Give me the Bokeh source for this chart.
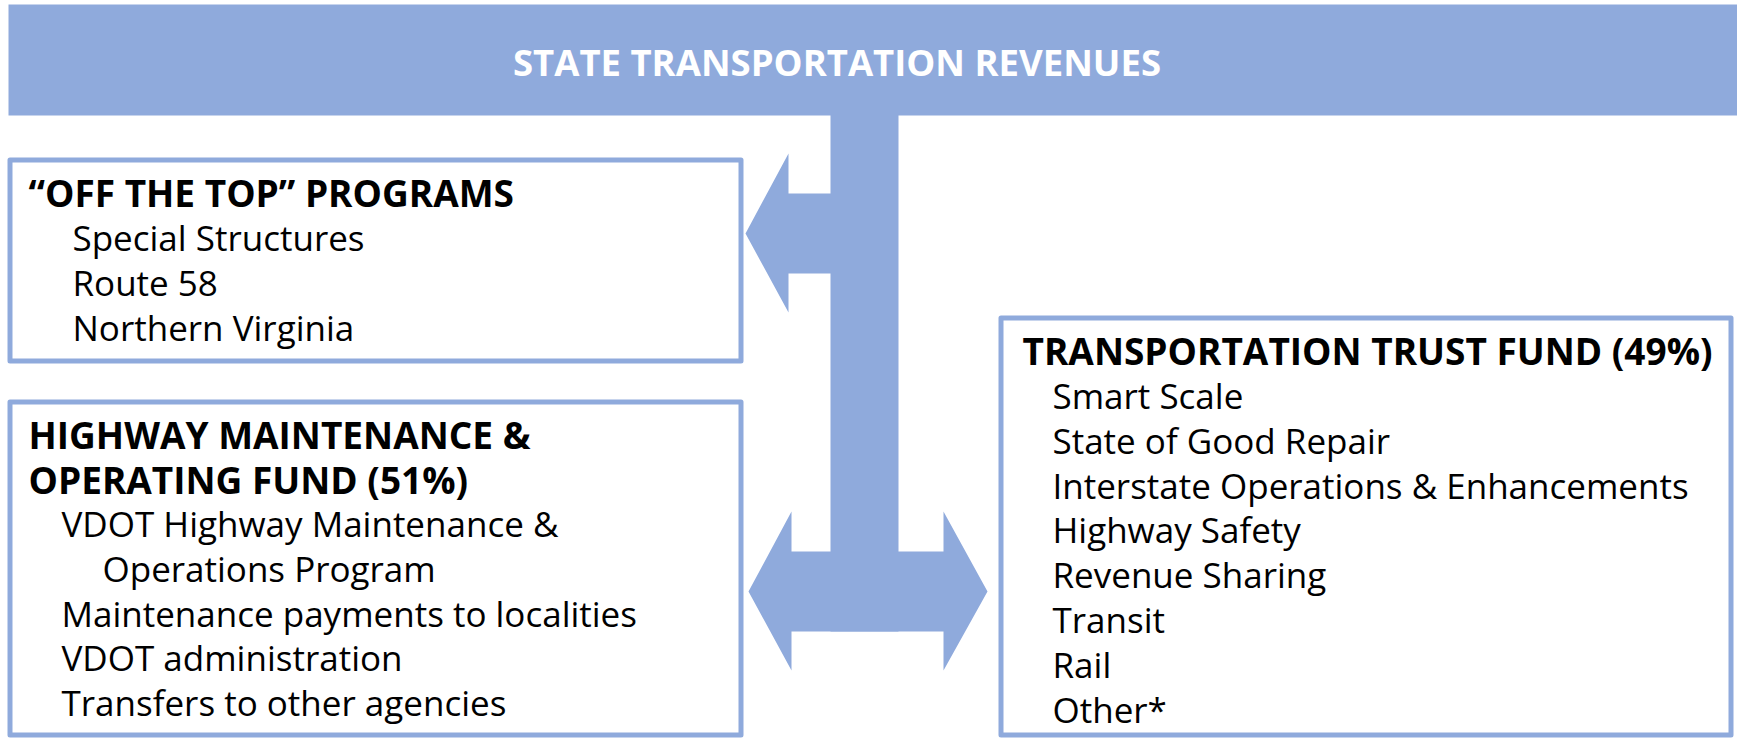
from bokeh.plotting import figure
from bokeh.models import Range1d
from bokeh.core.properties import value
from bokeh.embed import file_html
from bokeh.resources import INLINE

# ---- content ----
header_text = "STATE TRANSPORTATION REVENUES"
off_top_title = ["“OFF THE TOP” PROGRAMS"]
off_top_items = ["Special Structures", "Route 58", "Northern Virginia"]
hmof_title = ["HIGHWAY MAINTENANCE &", "OPERATING FUND (51%)"]
hmof_items = ["VDOT Highway Maintenance &", "Operations Program",
              "Maintenance payments to localities", "VDOT administration",
              "Transfers to other agencies"]
hmof_indent = [0, 1, 0, 0, 0]
ttf_title = ["TRANSPORTATION TRUST FUND (49%)"]
ttf_items = ["Smart Scale", "State of Good Repair",
             "Interstate Operations & Enhancements", "Highway Safety",
             "Revenue Sharing", "Transit", "Rail", "Other*"]

# ---- layout / style ----
W, H = 1737, 738
BLUE = "#8FAADC"
FONT = value("Open Sans")
BODY_SIZE = "35px"
TITLE_SIZE = "37px"
HEAD_SIZE = "36.5px"
LINE = 44.8
TEXT_DY = -13  # baseline correction for the renderer


p = figure(width=W, height=H, x_range=Range1d(0, W), y_range=Range1d(H, 0),
           output_backend="svg", toolbar_location=None, min_border=0,
           x_axis_type=None, y_axis_type=None)
p.grid.visible = False
p.outline_line_color = None
p.background_fill_color = "white"
p.border_fill_color = "white"

# header band
p.quad(left=[8], right=[W], top=[4], bottom=[115],
       fill_color=BLUE, line_color=None)

# stem + arrows
stem = ([830, 898, 898, 830], [110, 110, 631, 631])
left_arrow = ([745, 788, 788, 832, 832, 788, 788],
              [233, 153, 193, 193, 273, 273, 312])
double_arrow = ([748, 791, 791, 943, 943, 987, 943, 943, 791, 791],
                [591, 511, 551, 551, 511, 591, 670, 631, 631, 670])
shapes = [stem, left_arrow, double_arrow]
p.patches(xs=[s[0] for s in shapes], ys=[s[1] for s in shapes],
          fill_color=BLUE, line_color=None)

# boxes (stroke centre lines)
boxes = [(9.5, 740.5, 159.5, 360.5), (9.5, 740.5, 401.5, 734.5),
         (1000.5, 1730.5, 317.5, 734.5)]
p.quad(left=[b[0] for b in boxes], right=[b[1] for b in boxes],
       top=[b[2] for b in boxes], bottom=[b[3] for b in boxes],
       fill_color="white", line_color=BLUE, line_width=5, line_join="round")

# header text
p.text(x=[836.5], y=[74 + TEXT_DY], text=[header_text], text_color="white",
       text_font=FONT, text_font_size=HEAD_SIZE, text_font_style="bold",
       text_align="center", text_baseline="alphabetic")


def block(title_lines, tx, ty, items, ix, iy, indents=None, indent_px=41):
    p.text(x=[tx] * len(title_lines),
           y=[ty + i * LINE + TEXT_DY for i in range(len(title_lines))],
           text=title_lines, text_color="black", text_font=FONT,
           text_font_size=TITLE_SIZE, text_font_style="bold",
           text_align="left", text_baseline="alphabetic")
    if indents is None:
        indents = [0] * len(items)
    p.text(x=[ix + indents[i] * indent_px for i in range(len(items))],
           y=[iy + i * LINE + TEXT_DY for i in range(len(items))],
           text=items, text_color="black", text_font=FONT,
           text_font_size=BODY_SIZE, text_align="left",
           text_baseline="alphabetic")


block(off_top_title, 28, 205, off_top_items, 72, 250)
block(hmof_title, 28, 447, hmof_items, 61, 536, hmof_indent)
block(ttf_title, 1022, 363, ttf_items, 1052, 408)

open("out.html", "w").write(file_html(p, INLINE))
